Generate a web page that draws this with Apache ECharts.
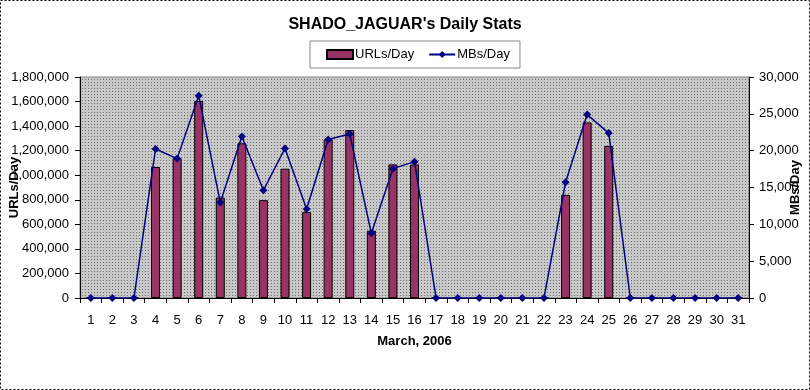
<!DOCTYPE html>
<html>
<head>
<meta charset="utf-8">
<script src="https://cdn.jsdelivr.net/npm/echarts@6/dist/echarts.min.js"></script>
<style>
html,body{margin:0;padding:0;background:#fff;}
#c{width:810px;height:390px;}
</style>
</head>
<body>
<div id="c"></div>
<script>
const days = ['1','2','3','4','5','6','7','8','9','10','11','12','13','14','15','16','17','18','19','20','21','22','23','24','25','26','27','28','29','30','31'];
const urlsPerDay = [0,0,0,1067000,1139000,1605000,818000,1260000,797000,1053000,700000,1293000,1368000,549000,1088000,1088000,0,0,0,0,0,0,840000,1430000,1239000,0,0,0,0,0,0];
const mbsPerDay = [0,0,0,20230,18920,27470,12970,21930,14630,20310,12070,21520,22250,8780,17560,18510,0,0,0,0,0,0,15710,24900,22390,0,0,0,0,0,0];
const title = "SHADO_JAGUAR's Daily Stats";
const seriesNames = ['URLs/Day','MBs/Day'];
const xName = 'March, 2006';

function makePattern(base, dot){
  const cv = document.createElement('canvas');
  cv.width = 3; cv.height = 3;
  const g = cv.getContext('2d');
  g.fillStyle = base; g.fillRect(0,0,3,3);
  g.fillStyle = dot; g.fillRect(1,1,1,1);
  return {image: cv, repeat: 'repeat'};
}

const chart = echarts.init(document.getElementById('c'), null, {renderer:'canvas'});
const fmt = v => v.toLocaleString('en-US');
const font = 'Liberation Sans, Arial, sans-serif';
chart.setOption({
  backgroundColor: '#ffffff',
  animation: false,
  textStyle: {fontFamily: font},
  title: {
    text: title, left: 'center', top: 12,
    textStyle: {fontSize: 16, fontWeight: 'bold', color: '#000', fontFamily: font}
  },
  legend: {
    top: 41, left: 310,
    data: [
      {name: seriesNames[0], icon: 'rect'},
      {name: seriesNames[1]}
    ],
    itemWidth: 26, itemHeight: 9, itemGap: 14,
    padding: [7, 10, 7, 16],
    borderColor: '#888', borderWidth: 1,
    textStyle: {fontSize: 13, color: '#000', fontFamily: font, padding: [0, 0, 0, -3]}
  },
  grid: {
    left: 80, right: 61, top: 77, bottom: 92,
    outerBoundsMode: 'none',
    containLabel: false,
    show: true,
    backgroundColor: makePattern('#c8c8c8', '#6e6e6e'),
    borderColor: '#808080', borderWidth: 1
  },
  xAxis: {
    type: 'category', data: days,
    name: xName, nameLocation: 'middle', nameGap: 37,
    nameMoveOverlap: false,
    nameTextStyle: {fontSize: 13, fontWeight: 'bold', color: '#000', fontFamily: font},
    boundaryGap: true,
    axisLine: {lineStyle: {color: '#000'}},
    axisTick: {show: true, alignWithLabel: false, length: 5, lineStyle: {color: '#000'}},
    axisLabel: {color: '#000', fontSize: 13, margin: 16, interval: 0, fontFamily: font},
    splitLine: {show: false}
  },
  yAxis: [
    {
      type: 'value', min: 0, max: 1800000, interval: 200000,
      name: seriesNames[0], nameLocation: 'middle', nameGap: 59, nameRotate: 90,
      nameMoveOverlap: false,
      nameTextStyle: {fontSize: 13, fontWeight: 'bold', color: '#000', fontFamily: font},
      axisLine: {show: true, lineStyle: {color: '#000'}},
      axisTick: {show: true, length: 5, lineStyle: {color: '#000'}},
      axisLabel: {color: '#000', fontSize: 13, margin: 11, formatter: fmt, fontFamily: font},
      splitLine: {show: false}
    },
    {
      type: 'value', min: 0, max: 30000, interval: 5000,
      name: seriesNames[1], nameLocation: 'middle', nameGap: 40, nameRotate: 90,
      nameMoveOverlap: false,
      nameTextStyle: {fontSize: 13, fontWeight: 'bold', color: '#000', fontFamily: font},
      axisLine: {show: true, lineStyle: {color: '#000'}},
      axisTick: {show: true, length: 5, lineStyle: {color: '#000'}},
      axisLabel: {color: '#000', fontSize: 13, margin: 10, formatter: fmt, fontFamily: font},
      splitLine: {show: false}
    }
  ],
  series: [
    {
      name: seriesNames[0], type: 'bar', data: urlsPerDay, yAxisIndex: 0,
      barWidth: 9,
      itemStyle: {color: '#993366', borderColor: '#000', borderWidth: 1}
    },
    {
      name: seriesNames[1], type: 'line', data: mbsPerDay, yAxisIndex: 1,
      symbol: 'diamond', symbolSize: 8, showSymbol: true,
      lineStyle: {color: '#000080', width: 1.5},
      itemStyle: {color: '#000080'}
    }
  ],
  graphic: [
    {type: 'rect', shape: {x: 0.5, y: 0.5, width: 809, height: 389}, style: {fill: 'none', stroke: '#000', lineWidth: 1, lineDash: [2, 2]}, z: 100}
  ]
});
</script>
</body>
</html>
